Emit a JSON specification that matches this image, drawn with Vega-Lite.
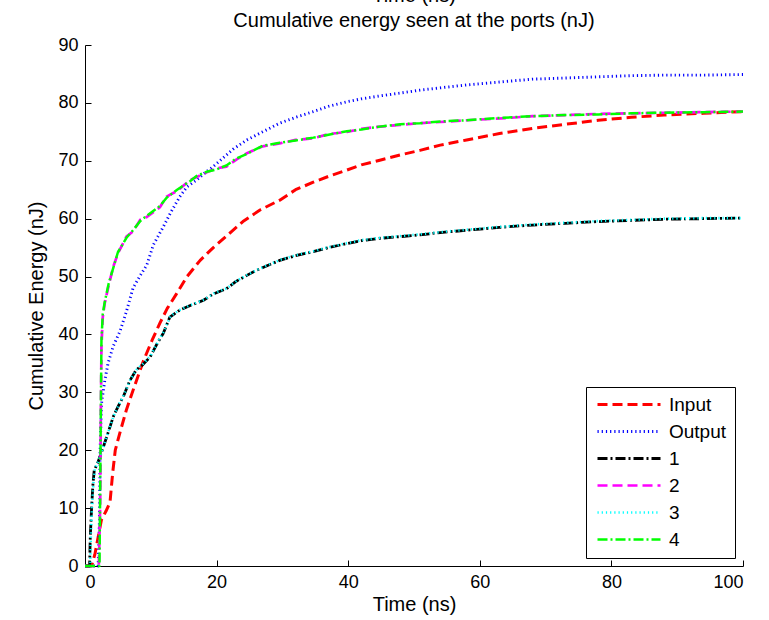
{
  "$schema": "https://vega.github.io/schema/vega-lite/v6.json",
  "width": 658,
  "height": 521,
  "autosize": {"type": "none"},
  "padding": {"left": 85, "top": 45, "right": 26, "bottom": 54},
  "background": "white",
  "title": {
    "text": ["Time (ns)", "Cumulative energy seen at the ports (nJ)"],
    "font": "Liberation Sans",
    "fontSize": 20,
    "fontWeight": "normal",
    "color": "black",
    "anchor": "middle",
    "offset": 5,
    "lineHeight": 25
  },
  "config": {
    "view": {"stroke": null},
    "axis": {
      "grid": false,
      "domainColor": "black",
      "tickColor": "black",
      "labelColor": "black",
      "titleColor": "black",
      "labelFont": "Liberation Sans",
      "titleFont": "Liberation Sans",
      "labelFontSize": 18,
      "titleFontSize": 20,
      "titleFontWeight": "normal",
      "tickSize": -6,
      "labelPadding": 13
    },
    "legend": {
      "labelFont": "Liberation Sans",
      "labelFontSize": 19,
      "labelColor": "black"
    }
  },
  "data": {
    "values": [
      {"series": "Input", "t": 0, "e": 0},
      {"series": "Input", "t": 1.0, "e": 0},
      {"series": "Input", "t": 1.5, "e": 2},
      {"series": "Input", "t": 2.0, "e": 5},
      {"series": "Input", "t": 2.5, "e": 8},
      {"series": "Input", "t": 3.2, "e": 9.5},
      {"series": "Input", "t": 3.8, "e": 11},
      {"series": "Input", "t": 4.2, "e": 16},
      {"series": "Input", "t": 4.6, "e": 20},
      {"series": "Input", "t": 5.3, "e": 23},
      {"series": "Input", "t": 6.3, "e": 27},
      {"series": "Input", "t": 7.5, "e": 31},
      {"series": "Input", "t": 8.9, "e": 35.5},
      {"series": "Input", "t": 10.2, "e": 39},
      {"series": "Input", "t": 11.4, "e": 42},
      {"series": "Input", "t": 12.5, "e": 44.5},
      {"series": "Input", "t": 13.9, "e": 47},
      {"series": "Input", "t": 15.5, "e": 50},
      {"series": "Input", "t": 17.5, "e": 52.8},
      {"series": "Input", "t": 19.5, "e": 55},
      {"series": "Input", "t": 21.5, "e": 57},
      {"series": "Input", "t": 24, "e": 59.5},
      {"series": "Input", "t": 26.6, "e": 61.5},
      {"series": "Input", "t": 29.6, "e": 63.2},
      {"series": "Input", "t": 32, "e": 65},
      {"series": "Input", "t": 34.7, "e": 66.3},
      {"series": "Input", "t": 37, "e": 67.3},
      {"series": "Input", "t": 39.8, "e": 68.4},
      {"series": "Input", "t": 42, "e": 69.3},
      {"series": "Input", "t": 44.8, "e": 70.1},
      {"series": "Input", "t": 47.9, "e": 71},
      {"series": "Input", "t": 50.9, "e": 71.8},
      {"series": "Input", "t": 54, "e": 72.7},
      {"series": "Input", "t": 58, "e": 73.6},
      {"series": "Input", "t": 63, "e": 74.7},
      {"series": "Input", "t": 68, "e": 75.6},
      {"series": "Input", "t": 73, "e": 76.3},
      {"series": "Input", "t": 78, "e": 77},
      {"series": "Input", "t": 83, "e": 77.5},
      {"series": "Input", "t": 88, "e": 77.9},
      {"series": "Input", "t": 94, "e": 78.2},
      {"series": "Input", "t": 100, "e": 78.5},

      {"series": "Output", "t": 0, "e": 0},
      {"series": "Output", "t": 2.0, "e": 0},
      {"series": "Output", "t": 2.2, "e": 8},
      {"series": "Output", "t": 2.3, "e": 20},
      {"series": "Output", "t": 2.5, "e": 28},
      {"series": "Output", "t": 3.0, "e": 32},
      {"series": "Output", "t": 3.5, "e": 35},
      {"series": "Output", "t": 4.3, "e": 38},
      {"series": "Output", "t": 5.3, "e": 40.5},
      {"series": "Output", "t": 6.3, "e": 44},
      {"series": "Output", "t": 7.3, "e": 48},
      {"series": "Output", "t": 8.3, "e": 50},
      {"series": "Output", "t": 9.4, "e": 52},
      {"series": "Output", "t": 10.4, "e": 55.5},
      {"series": "Output", "t": 11.9, "e": 58.6},
      {"series": "Output", "t": 13, "e": 61},
      {"series": "Output", "t": 14.4, "e": 63.8},
      {"series": "Output", "t": 15.5, "e": 65.5},
      {"series": "Output", "t": 17, "e": 66.7},
      {"series": "Output", "t": 18.3, "e": 68},
      {"series": "Output", "t": 19.5, "e": 69},
      {"series": "Output", "t": 21, "e": 70.5},
      {"series": "Output", "t": 22.5, "e": 72},
      {"series": "Output", "t": 24.6, "e": 73.6},
      {"series": "Output", "t": 27, "e": 75},
      {"series": "Output", "t": 29.6, "e": 76.5},
      {"series": "Output", "t": 32, "e": 77.5},
      {"series": "Output", "t": 34.7, "e": 78.5},
      {"series": "Output", "t": 37, "e": 79.4},
      {"series": "Output", "t": 39.8, "e": 80.2},
      {"series": "Output", "t": 42, "e": 80.7},
      {"series": "Output", "t": 44.8, "e": 81.2},
      {"series": "Output", "t": 47.9, "e": 81.7},
      {"series": "Output", "t": 50.9, "e": 82.2},
      {"series": "Output", "t": 54, "e": 82.6},
      {"series": "Output", "t": 58, "e": 83.1},
      {"series": "Output", "t": 63, "e": 83.6},
      {"series": "Output", "t": 68, "e": 84.1},
      {"series": "Output", "t": 73, "e": 84.3},
      {"series": "Output", "t": 78, "e": 84.5},
      {"series": "Output", "t": 83, "e": 84.7},
      {"series": "Output", "t": 88, "e": 84.8},
      {"series": "Output", "t": 94, "e": 84.8},
      {"series": "Output", "t": 100, "e": 84.9},

      {"series": "1", "t": 0, "e": 0},
      {"series": "1", "t": 0.7, "e": 0},
      {"series": "1", "t": 0.8, "e": 5},
      {"series": "1", "t": 1.0, "e": 10},
      {"series": "1", "t": 1.2, "e": 14},
      {"series": "1", "t": 1.4, "e": 16.5},
      {"series": "1", "t": 2.0, "e": 18},
      {"series": "1", "t": 2.8, "e": 20.6},
      {"series": "1", "t": 3.5, "e": 23},
      {"series": "1", "t": 4.3, "e": 25.8},
      {"series": "1", "t": 5.0, "e": 27.5},
      {"series": "1", "t": 5.8, "e": 29.2},
      {"series": "1", "t": 6.8, "e": 32},
      {"series": "1", "t": 7.8, "e": 33.9},
      {"series": "1", "t": 8.8, "e": 34.8},
      {"series": "1", "t": 9.9, "e": 36.1},
      {"series": "1", "t": 11, "e": 38.5},
      {"series": "1", "t": 11.9, "e": 40.2},
      {"series": "1", "t": 12.9, "e": 43},
      {"series": "1", "t": 14.4, "e": 44.2},
      {"series": "1", "t": 16, "e": 45},
      {"series": "1", "t": 18, "e": 45.9},
      {"series": "1", "t": 19.5, "e": 47},
      {"series": "1", "t": 21.5, "e": 47.9},
      {"series": "1", "t": 23, "e": 49.2},
      {"series": "1", "t": 24.6, "e": 50.2},
      {"series": "1", "t": 26.1, "e": 51.1},
      {"series": "1", "t": 29.6, "e": 52.8},
      {"series": "1", "t": 32, "e": 53.6},
      {"series": "1", "t": 34.7, "e": 54.3},
      {"series": "1", "t": 37, "e": 55},
      {"series": "1", "t": 39.8, "e": 55.7},
      {"series": "1", "t": 42, "e": 56.2},
      {"series": "1", "t": 44.8, "e": 56.6},
      {"series": "1", "t": 47.9, "e": 56.9},
      {"series": "1", "t": 50.9, "e": 57.2},
      {"series": "1", "t": 54, "e": 57.6},
      {"series": "1", "t": 58, "e": 58},
      {"series": "1", "t": 63, "e": 58.5},
      {"series": "1", "t": 68, "e": 58.9},
      {"series": "1", "t": 73, "e": 59.2},
      {"series": "1", "t": 78, "e": 59.5},
      {"series": "1", "t": 83, "e": 59.7},
      {"series": "1", "t": 88, "e": 59.9},
      {"series": "1", "t": 94, "e": 60},
      {"series": "1", "t": 100, "e": 60.1},

      {"series": "2", "t": 0, "e": 0},
      {"series": "2", "t": 2.1, "e": 0},
      {"series": "2", "t": 2.3, "e": 10},
      {"series": "2", "t": 2.4, "e": 25},
      {"series": "2", "t": 2.5, "e": 38},
      {"series": "2", "t": 2.7, "e": 43},
      {"series": "2", "t": 3.0, "e": 45.4},
      {"series": "2", "t": 3.6, "e": 48.5},
      {"series": "2", "t": 4.3, "e": 51.7},
      {"series": "2", "t": 5.0, "e": 54},
      {"series": "2", "t": 6.3, "e": 56.9},
      {"series": "2", "t": 7.3, "e": 57.8},
      {"series": "2", "t": 8.4, "e": 59.8},
      {"series": "2", "t": 9.4, "e": 60.3},
      {"series": "2", "t": 11.4, "e": 62},
      {"series": "2", "t": 12.4, "e": 63.8},
      {"series": "2", "t": 14, "e": 64.8},
      {"series": "2", "t": 16, "e": 66.7},
      {"series": "2", "t": 17, "e": 67.2},
      {"series": "2", "t": 18.5, "e": 68},
      {"series": "2", "t": 20, "e": 68.7},
      {"series": "2", "t": 21.5, "e": 69},
      {"series": "2", "t": 23, "e": 70.2},
      {"series": "2", "t": 24.6, "e": 71.3},
      {"series": "2", "t": 27, "e": 72.5},
      {"series": "2", "t": 29.6, "e": 73},
      {"series": "2", "t": 32, "e": 73.6},
      {"series": "2", "t": 34.7, "e": 73.9},
      {"series": "2", "t": 37, "e": 74.6},
      {"series": "2", "t": 39.8, "e": 75},
      {"series": "2", "t": 42, "e": 75.5},
      {"series": "2", "t": 44.8, "e": 75.9},
      {"series": "2", "t": 47.9, "e": 76.2},
      {"series": "2", "t": 50.9, "e": 76.5},
      {"series": "2", "t": 54, "e": 76.7},
      {"series": "2", "t": 58, "e": 77},
      {"series": "2", "t": 63, "e": 77.3},
      {"series": "2", "t": 68, "e": 77.7},
      {"series": "2", "t": 73, "e": 77.9},
      {"series": "2", "t": 78, "e": 78.1},
      {"series": "2", "t": 83, "e": 78.2},
      {"series": "2", "t": 88, "e": 78.3},
      {"series": "2", "t": 94, "e": 78.4},
      {"series": "2", "t": 100, "e": 78.5},

      {"series": "3", "t": 0, "e": 0},
      {"series": "3", "t": 0.8, "e": 0},
      {"series": "3", "t": 0.9, "e": 6},
      {"series": "3", "t": 1.1, "e": 11},
      {"series": "3", "t": 1.3, "e": 14.5},
      {"series": "3", "t": 1.5, "e": 16.8},
      {"series": "3", "t": 2.1, "e": 18.3},
      {"series": "3", "t": 2.9, "e": 21},
      {"series": "3", "t": 3.6, "e": 23.4},
      {"series": "3", "t": 4.4, "e": 26},
      {"series": "3", "t": 5.1, "e": 27.8},
      {"series": "3", "t": 5.9, "e": 29.5},
      {"series": "3", "t": 6.9, "e": 32.2},
      {"series": "3", "t": 7.9, "e": 34},
      {"series": "3", "t": 8.9, "e": 35},
      {"series": "3", "t": 10, "e": 36.4},
      {"series": "3", "t": 11.1, "e": 38.8},
      {"series": "3", "t": 12, "e": 40.5},
      {"series": "3", "t": 13, "e": 43.2},
      {"series": "3", "t": 14.5, "e": 44.3},
      {"series": "3", "t": 16.1, "e": 45.1},
      {"series": "3", "t": 18.1, "e": 46},
      {"series": "3", "t": 19.6, "e": 47.1},
      {"series": "3", "t": 21.6, "e": 48},
      {"series": "3", "t": 23.1, "e": 49.3},
      {"series": "3", "t": 24.7, "e": 50.3},
      {"series": "3", "t": 26.2, "e": 51.2},
      {"series": "3", "t": 29.7, "e": 52.9},
      {"series": "3", "t": 32.1, "e": 53.7},
      {"series": "3", "t": 34.8, "e": 54.4},
      {"series": "3", "t": 37.1, "e": 55.1},
      {"series": "3", "t": 39.9, "e": 55.8},
      {"series": "3", "t": 42.1, "e": 56.3},
      {"series": "3", "t": 44.9, "e": 56.7},
      {"series": "3", "t": 48, "e": 57},
      {"series": "3", "t": 51, "e": 57.3},
      {"series": "3", "t": 54.1, "e": 57.7},
      {"series": "3", "t": 58.1, "e": 58.1},
      {"series": "3", "t": 63.1, "e": 58.6},
      {"series": "3", "t": 68.1, "e": 59},
      {"series": "3", "t": 73.1, "e": 59.3},
      {"series": "3", "t": 78.1, "e": 59.6},
      {"series": "3", "t": 83.1, "e": 59.8},
      {"series": "3", "t": 88.1, "e": 60},
      {"series": "3", "t": 94.1, "e": 60.1},
      {"series": "3", "t": 100, "e": 60.1},

      {"series": "4", "t": 0, "e": 0},
      {"series": "4", "t": 2.2, "e": 0},
      {"series": "4", "t": 2.3, "e": 12},
      {"series": "4", "t": 2.4, "e": 26},
      {"series": "4", "t": 2.5, "e": 39},
      {"series": "4", "t": 2.7, "e": 43.5},
      {"series": "4", "t": 3.0, "e": 45.6},
      {"series": "4", "t": 3.6, "e": 48.8},
      {"series": "4", "t": 4.3, "e": 51.5},
      {"series": "4", "t": 5.0, "e": 54.2},
      {"series": "4", "t": 6.3, "e": 56.7},
      {"series": "4", "t": 7.3, "e": 58},
      {"series": "4", "t": 8.4, "e": 59.6},
      {"series": "4", "t": 9.4, "e": 60.5},
      {"series": "4", "t": 11.4, "e": 62.2},
      {"series": "4", "t": 12.4, "e": 63.6},
      {"series": "4", "t": 14, "e": 65},
      {"series": "4", "t": 16, "e": 66.5},
      {"series": "4", "t": 17, "e": 67.4},
      {"series": "4", "t": 18.5, "e": 68.1},
      {"series": "4", "t": 20, "e": 68.5},
      {"series": "4", "t": 21.5, "e": 69.2},
      {"series": "4", "t": 23, "e": 70.4},
      {"series": "4", "t": 24.6, "e": 71.2},
      {"series": "4", "t": 27, "e": 72.6},
      {"series": "4", "t": 29.6, "e": 73.1},
      {"series": "4", "t": 32, "e": 73.5},
      {"series": "4", "t": 34.7, "e": 74},
      {"series": "4", "t": 37, "e": 74.5},
      {"series": "4", "t": 39.8, "e": 75.1},
      {"series": "4", "t": 42, "e": 75.4},
      {"series": "4", "t": 44.8, "e": 75.9},
      {"series": "4", "t": 47.9, "e": 76.3},
      {"series": "4", "t": 50.9, "e": 76.5},
      {"series": "4", "t": 54, "e": 76.8},
      {"series": "4", "t": 58, "e": 77},
      {"series": "4", "t": 63, "e": 77.4},
      {"series": "4", "t": 68, "e": 77.7},
      {"series": "4", "t": 73, "e": 77.9},
      {"series": "4", "t": 78, "e": 78},
      {"series": "4", "t": 83, "e": 78.2},
      {"series": "4", "t": 88, "e": 78.3},
      {"series": "4", "t": 94, "e": 78.4},
      {"series": "4", "t": 100, "e": 78.5}
    ]
  },
  "mark": {"type": "line", "strokeCap": "butt", "strokeJoin": "round"},
  "encoding": {
    "x": {
      "field": "t",
      "type": "quantitative",
      "scale": {"domain": [0, 100], "nice": false},
      "axis": {"values": [0, 20, 40, 60, 80, 100], "title": "Time (ns)", "titlePadding": 3}
    },
    "y": {
      "field": "e",
      "type": "quantitative",
      "scale": {"domain": [0, 90], "nice": false},
      "axis": {"values": [0, 10, 20, 30, 40, 50, 60, 70, 80, 90], "title": "Cumulative Energy (nJ)", "titlePadding": 11}
    },
    "color": {
      "field": "series",
      "type": "nominal",
      "scale": {
        "domain": ["Input", "Output", "1", "2", "3", "4"],
        "range": ["#ff0000", "#0000ff", "#000000", "#ff00ff", "#00ffff", "#00ff00"]
      },
      "legend": {
        "orient": "bottom-right",
        "title": null,
        "strokeColor": "black",
        "fillColor": "white",
        "padding": 8,
        "offset": 8,
        "symbolType": "M-1,0H9.5",
        "symbolSize": 144,
        "labelOffset": 56,
        "rowPadding": 7
      }
    },
    "strokeDash": {
      "field": "series",
      "type": "nominal",
      "scale": {
        "domain": ["Input", "Output", "1", "2", "3", "4"],
        "range": [[10, 5], [1.2, 3], [10, 3, 2, 3], [10, 5], [1.2, 3], [10, 3, 2, 3]]
      },
      "legend": null
    },
    "strokeWidth": {
      "field": "series",
      "type": "nominal",
      "scale": {
        "domain": ["Input", "Output", "1", "2", "3", "4"],
        "range": [3, 2.5, 3, 3, 2.5, 3]
      },
      "legend": null
    }
  }
}
